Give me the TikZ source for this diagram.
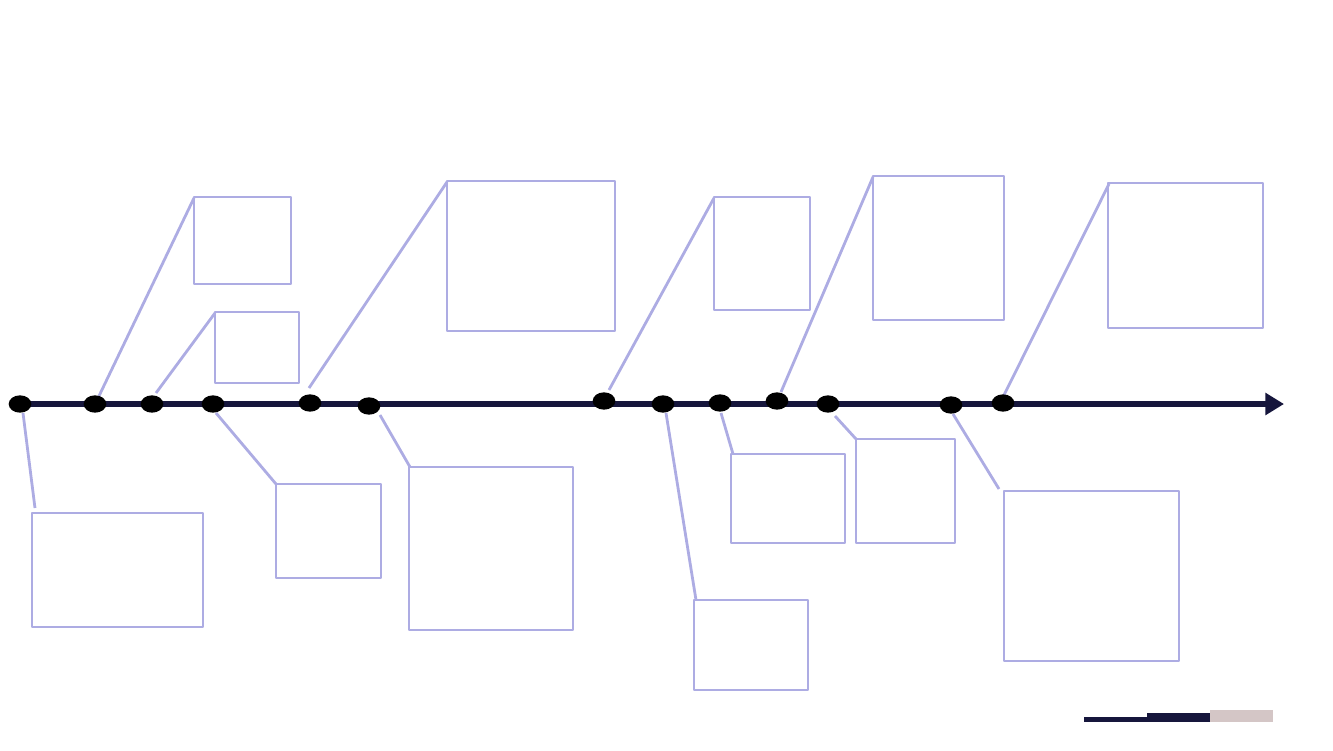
\documentclass[tikz,border=0pt]{standalone}
\usetikzlibrary{arrows.meta,shapes.geometric}
\definecolor{navy}{HTML}{16163C}
\definecolor{lav}{HTML}{ADACE3}
\definecolor{rosegray}{HTML}{D4C6C6}
\begin{document}
\begin{tikzpicture}[x=0.75pt,y=-0.75pt,
  dot/.style={fill=black,ellipse,inner sep=0pt,minimum width=17pt,minimum height=13pt},
  card/.style={draw=lav,line width=2.2pt,line join=round},
  lead/.style={draw=lav,line width=2.1pt},
  axis/.style={draw=navy,line width=4.5pt,-{Triangle[length=14pt,width=16pt]}}]
\useasboundingbox (0,0) rectangle (1333,750);
% axis
\coordinate (start) at (20,404);
\coordinate (end) at (1284,404);
\draw[axis] (start) -- (end);
% boxes
\draw[card] (194,197) rectangle (291,284);
\draw[card] (215,312) rectangle (299,383);
\draw[card] (447,181) rectangle (615,331);
\draw[card] (714,197) rectangle (810,310);
\draw[card] (873,176) rectangle (1004,320);
\draw[card] (1108,183) rectangle (1263,328);
\draw[card] (32,513) rectangle (203,627);
\draw[card] (276,484) rectangle (381,578);
\draw[card] (409,467) rectangle (573,630);
\draw[card] (694,600) rectangle (808,690);
\draw[card] (731,454) rectangle (845,543);
\draw[card] (856,439) rectangle (955,543);
\draw[card] (1004,491) rectangle (1179,661);
% leads
\coordinate (a1) at (194,198); \coordinate (a2) at (99,396);
\coordinate (b1) at (215,313); \coordinate (b2) at (156,393);
\coordinate (c1) at (447,182); \coordinate (c2) at (309,388);
\coordinate (e1) at (714,198); \coordinate (e2) at (609,390);
\coordinate (f1) at (873,177); \coordinate (f2) at (781,392);
\coordinate (g1) at (1109,184); \coordinate (g2) at (1004,395);
\coordinate (h1) at (23,413); \coordinate (h2) at (35,508);
\coordinate (i1) at (216,413); \coordinate (i2) at (276,484);
\coordinate (j1) at (380,415); \coordinate (j2) at (410,467);
\coordinate (k1) at (666,413); \coordinate (k2) at (696,600);
\coordinate (l1) at (721,413); \coordinate (l2) at (733,454);
\coordinate (m1) at (835,416); \coordinate (m2) at (856,439);
\coordinate (n1) at (953,414); \coordinate (n2) at (999,489);
\foreach \p in {a,b,c,e,f,g,h,i,j,k,l,m,n}
  \draw[lead] (\p1) -- (\p2);
% dots
\foreach \n/\x/\y in {1/20/404,2/95/404,3/152/404,4/213/404,5/310/403,6/369/406,7/604/401,8/663/404,9/720/403,10/777/401,11/828/404,12/951/405,13/1003/403}
  \node[dot] (d\n) at (\x,\y) {};
% legend bar
\fill[navy] (1084,716.5) rectangle (1148,721.5);
\fill[navy] (1147,713) rectangle (1210,721.5);
\fill[rosegray] (1210,709.5) rectangle (1273,721.5);
\end{tikzpicture}
\end{document}
